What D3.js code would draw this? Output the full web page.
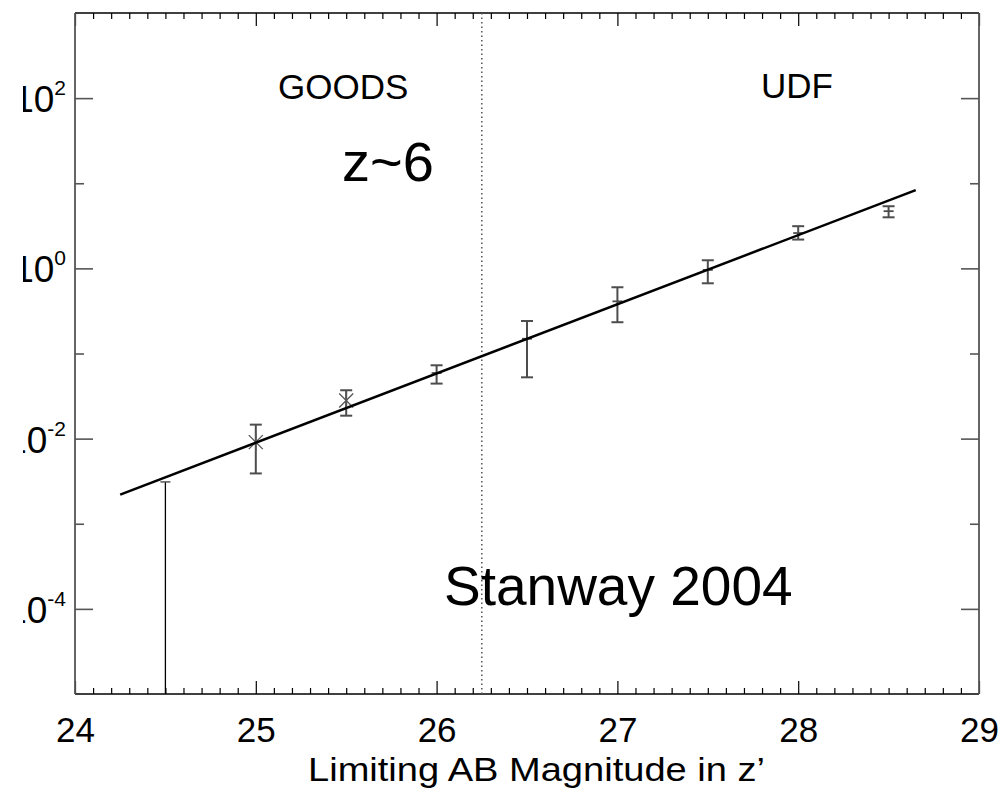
<!DOCTYPE html>
<html>
<head>
<meta charset="utf-8">
<script src="https://cdn.jsdelivr.net/npm/d3@7"></script>
<style>
  html, body { margin: 0; padding: 0; background: #fff; }
  svg { display: block; font-family: "Liberation Sans", Arial, Helvetica, sans-serif; }
</style>
</head>
<body>
<svg id="chart" width="1003" height="788"></svg>
<script>
// Limiting z' magnitude bins
const mags = [25, 25.5, 26, 26.5, 27, 27.5, 28, 28.5];
// Number counts per bin and their error-bar bounds
const counts = [0.0091, 0.028, 0.059, 0.149, 0.41, 0.96, 2.6, 4.7];
const countsLow = [0.0039, 0.0186, 0.0443, 0.0525, 0.233, 0.668, 2.18, 3.98];
const countsHigh = [0.0146, 0.037, 0.0727, 0.241, 0.60, 1.245, 3.13, 5.37];
// Bins measured directly in GOODS are drawn with an asterisk
const asteriskBins = [25, 25.5];
// Upper limit at the bright end
const limitMag = [24.5];
const limitValue = [0.0031];
// Straight-line fit in log space (end points)
const fitMag = [24.25, 28.65];
const fitValue = [0.0022, 8.3];
// Boundary between GOODS and UDF depth
const surveyBoundary = [26.25];
// Axis ticks
const xMajorTicks = [24, 25, 26, 27, 28, 29];
const xMinorTicks = d3.range(240, 291).map(v => v / 10).filter(v => !xMajorTicks.includes(v));
const yMajorTicks = [1e-4, 1e-2, 1, 1e2];
const yMinorTicks = [1e-3, 1e-1, 1e1];
const yTickExponents = ["-4", "-2", "0", "2"];

const svg = d3.select("#chart");
const plotLeft = 75, plotRight = 979, plotTop = 13, plotBottom = 694;

const x = d3.scaleLinear().domain([24, 29]).range([plotLeft, plotRight]);
const y = d3.scaleLog().domain([1e-5, 1e3]).range([plotBottom, plotTop]);

svg.append("rect").attr("width", 1003).attr("height", 788).attr("fill", "#fff");

// clip region for the left-hand labels
svg.append("defs").append("clipPath").attr("id", "labelClip")
  .append("rect").attr("x", 23).attr("y", 0).attr("width", 990).attr("height", 788);

function styleAxis(g, color, width) {
  g.select(".domain").remove();
  g.selectAll(".tick line").attr("stroke", color).attr("stroke-width", width);
}

// Bottom axis: minor ticks, then major ticks with labels
svg.append("g").attr("transform", `translate(0,${plotBottom})`)
  .call(d3.axisBottom(x).tickValues(xMinorTicks).tickSize(-6).tickFormat(""))
  .call(g => styleAxis(g, "#000", 1.2));
svg.append("g").attr("transform", `translate(0,${plotBottom})`)
  .call(d3.axisBottom(x).tickValues(xMajorTicks).tickSize(-13).tickPadding(23).tickFormat(d3.format("d")))
  .call(g => styleAxis(g, "#000", 1.2))
  .call(g => g.selectAll(".tick text").attr("fill", "#000").attr("font-size", 35)
    .attr("font-family", "Liberation Sans, Arial, sans-serif"));

// Top axis
svg.append("g").attr("transform", `translate(0,${plotTop})`)
  .call(d3.axisTop(x).tickValues(xMinorTicks).tickSize(-6).tickFormat(""))
  .call(g => styleAxis(g, "#000", 1.2));
svg.append("g").attr("transform", `translate(0,${plotTop})`)
  .call(d3.axisTop(x).tickValues(xMajorTicks).tickSize(-13).tickFormat(""))
  .call(g => styleAxis(g, "#000", 1.2));

// Left axis
svg.append("g").attr("transform", `translate(${plotLeft},0)`)
  .call(d3.axisLeft(y).tickValues(yMinorTicks).tickSize(-9).tickFormat(""))
  .call(g => styleAxis(g, "#555", 1.6));
svg.append("g").attr("transform", `translate(${plotLeft},0)`)
  .call(d3.axisLeft(y).tickValues(yMajorTicks).tickSize(-18).tickFormat(""))
  .call(g => styleAxis(g, "#555", 1.6));

// Right axis
svg.append("g").attr("transform", `translate(${plotRight},0)`)
  .call(d3.axisRight(y).tickValues(yMinorTicks).tickSize(-9).tickFormat(""))
  .call(g => styleAxis(g, "#555", 1.6));
svg.append("g").attr("transform", `translate(${plotRight},0)`)
  .call(d3.axisRight(y).tickValues(yMajorTicks).tickSize(-18).tickFormat(""))
  .call(g => styleAxis(g, "#555", 1.6));

// Power-of-ten labels on the left axis
const yLabels = svg.append("g").attr("clip-path", "url(#labelClip)");
yMajorTicks.forEach((v, i) => {
  const t = yLabels.append("text")
    .attr("x", 66).attr("y", y(v) + 14)
    .attr("text-anchor", "end").attr("fill", "#000");
  t.append("tspan").attr("font-size", 37).text("10");
  t.append("tspan").attr("font-size", 21).attr("dy", -17).text(yTickExponents[i]);
});

// Frame
svg.append("line").attr("x1", plotLeft).attr("x2", plotRight).attr("y1", plotTop).attr("y2", plotTop)
  .attr("stroke", "#000").attr("stroke-width", 1.4);
svg.append("line").attr("x1", plotLeft).attr("x2", plotRight).attr("y1", plotBottom).attr("y2", plotBottom)
  .attr("stroke", "#000").attr("stroke-width", 1.4);
svg.append("line").attr("x1", plotLeft).attr("x2", plotLeft).attr("y1", plotTop).attr("y2", plotBottom)
  .attr("stroke", "#555").attr("stroke-width", 1.8);
svg.append("line").attr("x1", plotRight).attr("x2", plotRight).attr("y1", plotTop).attr("y2", plotBottom)
  .attr("stroke", "#555").attr("stroke-width", 1.8);

// GOODS / UDF boundary
svg.selectAll(".boundary").data(surveyBoundary).join("line")
  .attr("class", "boundary")
  .attr("x1", d => x(d)).attr("x2", d => x(d))
  .attr("y1", plotTop).attr("y2", plotBottom)
  .attr("stroke", "#555").attr("stroke-width", 1.5)
  .attr("stroke-dasharray", "1.5,3");

// Upper limit
svg.selectAll(".limit").data(limitMag).join("line")
  .attr("class", "limit")
  .attr("x1", d => x(d)).attr("x2", d => x(d))
  .attr("y1", plotBottom).attr("y2", (d, i) => y(limitValue[i]))
  .attr("stroke", "#000").attr("stroke-width", 1.3);
svg.selectAll(".limitcap").data(limitMag).join("line")
  .attr("class", "limitcap")
  .attr("x1", d => x(d) - 5).attr("x2", d => x(d) + 5)
  .attr("y1", (d, i) => y(limitValue[i])).attr("y2", (d, i) => y(limitValue[i]))
  .attr("stroke", "#555").attr("stroke-width", 1.5);

// Error bars
const pts = mags.map((m, i) => ({ m, v: counts[i], lo: countsLow[i], hi: countsHigh[i] }));
const errColor = "#4d4d4d";
const eb = svg.append("g").attr("stroke", errColor).attr("stroke-width", 2);
eb.selectAll(".ev").data(pts).join("line").attr("class", "ev")
  .attr("x1", d => x(d.m)).attr("x2", d => x(d.m))
  .attr("y1", d => y(d.lo)).attr("y2", d => y(d.hi));
eb.selectAll(".ecl").data(pts).join("line").attr("class", "ecl")
  .attr("x1", d => x(d.m) - 6).attr("x2", d => x(d.m) + 6)
  .attr("y1", d => y(d.lo)).attr("y2", d => y(d.lo));
eb.selectAll(".ech").data(pts).join("line").attr("class", "ech")
  .attr("x1", d => x(d.m) - 6).attr("x2", d => x(d.m) + 6)
  .attr("y1", d => y(d.hi)).attr("y2", d => y(d.hi));

// Point markers: asterisks for GOODS bins, short dashes elsewhere
const stars = pts.filter(d => asteriskBins.includes(d.m));
const dashes = pts.filter(d => !asteriskBins.includes(d.m));
const sg = svg.append("g").attr("stroke", "#555").attr("stroke-width", 1.3);
stars.forEach(d => {
  const cx = x(d.m), cy = y(d.v), r = 7;
  sg.append("line").attr("x1", cx - r).attr("x2", cx + r).attr("y1", cy - r).attr("y2", cy + r);
  sg.append("line").attr("x1", cx - r).attr("x2", cx + r).attr("y1", cy + r).attr("y2", cy - r);
  sg.append("line").attr("x1", cx).attr("x2", cx).attr("y1", cy - 9).attr("y2", cy + 9);
});
svg.append("g").attr("stroke", errColor).attr("stroke-width", 1.8)
  .selectAll("line").data(dashes).join("line")
  .attr("x1", d => x(d.m) - 5).attr("x2", d => x(d.m) + 5)
  .attr("y1", d => y(d.v)).attr("y2", d => y(d.v));

// Fit line
svg.append("path")
  .datum(fitMag.map((m, i) => [m, fitValue[i]]))
  .attr("d", d3.line().x(d => x(d[0])).y(d => y(d[1])))
  .attr("fill", "none").attr("stroke", "#000").attr("stroke-width", 2.5);

// Annotations
const ann = svg.append("g").attr("fill", "#000");
ann.append("text").attr("x", 278).attr("y", 99).attr("font-size", 35).text("GOODS");
ann.append("text").attr("x", 833).attr("y", 98).attr("font-size", 35).attr("text-anchor", "end").text("UDF");
ann.append("text").attr("x", 342).attr("y", 181).attr("font-size", 56).text("z~6");
ann.append("text").attr("x", 444).attr("y", 605).attr("font-size", 55).text("Stanway 2004");

// X-axis title
svg.append("text").attr("x", 308).attr("y", 781)
  .attr("font-size", 34).attr("fill", "#000")
  .attr("textLength", 457).attr("lengthAdjust", "spacingAndGlyphs")
  .text("Limiting AB Magnitude in z\u2019");
</script>
</body>
</html>
